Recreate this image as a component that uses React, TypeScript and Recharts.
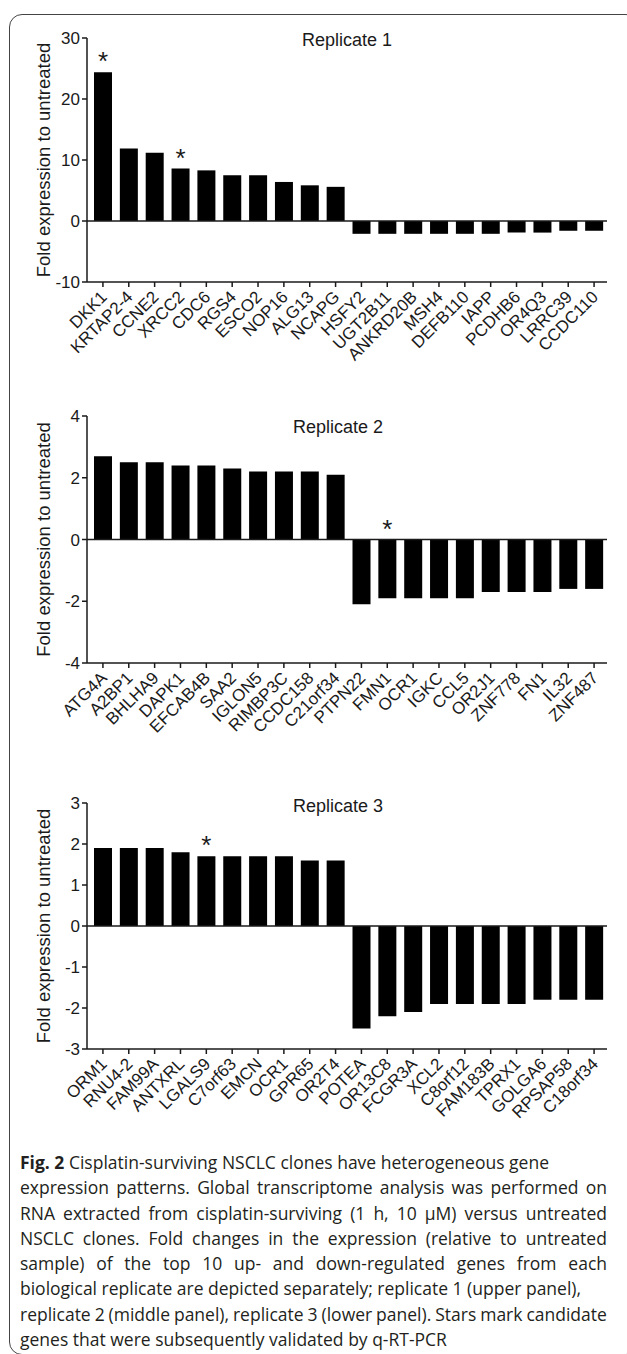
import React from 'react';
import { BarChart, Bar, XAxis, YAxis, ReferenceLine, LabelList } from 'recharts';

const genes1 = ["DKK1","KRTAP2-4","CCNE2","XRCC2","CDC6","RGS4","ESCO2","NOP16","ALG13","NCAPG","HSFY2","UGT2B11","ANKRD20B","MSH4","DEFB110","IAPP","PCDHB6","OR4Q3","LRRC39","CCDC110"];
const fold1 = [24.4, 11.9, 11.2, 8.6, 8.3, 7.5, 7.5, 6.4, 5.85, 5.6, -2.1, -2.1, -2.1, -2.1, -2.1, -2.1, -1.9, -1.9, -1.6, -1.6];
const starred1 = ["DKK1", "XRCC2"];
const ticks1 = [-10, 0, 10, 20, 30];

const genes2 = ["ATG4A","A2BP1","BHLHA9","DAPK1","EFCAB4B","SAA2","IGLON5","RIMBP3C","CCDC158","C21orf34","PTPN22","FMN1","OCR1","IGKC","CCL5","OR2J1","ZNF778","FN1","IL32","ZNF487"];
const fold2 = [2.7, 2.5, 2.5, 2.4, 2.4, 2.3, 2.2, 2.2, 2.2, 2.1, -2.1, -1.9, -1.9, -1.9, -1.9, -1.7, -1.7, -1.7, -1.6, -1.6];
const starred2 = ["FMN1"];
const ticks2 = [-4, -2, 0, 2, 4];

const genes3 = ["ORM1","RNU4-2","FAM99A","ANTXRL","LGALS9","C7orf63","EMCN","OCR1","GPR65","OR2T4","POTEA","OR13C8","FCGR3A","XCL2","C8orf12","FAM183B","TPRX1","GOLGA6","RPSAP58","C18orf34"];
const fold3 = [1.9, 1.9, 1.9, 1.8, 1.7, 1.7, 1.7, 1.7, 1.6, 1.6, -2.5, -2.2, -2.1, -1.9, -1.9, -1.9, -1.9, -1.8, -1.8, -1.8];
const starred3 = ["LGALS9"];
const ticks3 = [-3, -2, -1, 0, 1, 2, 3];

const titles = ["Replicate 1", "Replicate 2", "Replicate 3"];
const yLabel = "Fold expression to untreated";

const captionLines = [
  "Cisplatin-surviving NSCLC clones have heterogeneous gene",
  "expression patterns. Global transcriptome analysis was performed on",
  "RNA extracted from cisplatin-surviving (1 h, 10 μM) versus untreated",
  "NSCLC clones. Fold changes in the expression (relative to untreated",
  "sample) of the top 10 up- and down-regulated genes from each",
  "biological replicate are depicted separately; replicate 1 (upper panel),",
  "replicate 2 (middle panel), replicate 3 (lower panel). Stars mark candidate",
  "genes that were subsequently validated by q-RT-PCR",
];
const justified = [false, true, true, true, true, false, true, false];

const FONT = '"Liberation Sans", Arial, Helvetica, sans-serif';
const INK = '#1a1a1a';

const GeneTick = (props: any) => {
  const { x, y, payload } = props;
  return (
    <g transform={`translate(${x + 5},${y + 9}) rotate(-45)`}>
      <text x={0} y={0} textAnchor="end" fontSize={17} fill={INK} fontFamily={FONT}>
        {payload.value}
      </text>
    </g>
  );
};

const StarLabel = (props: any) => {
  const { x, y, width, height, value } = props;
  if (!value) return null;
  const top = Math.min(Number(y), Number(y) + Number(height));
  return (
    <text x={Number(x) + Number(width) / 2} y={top - 2} textAnchor="middle" fontSize={26} fill={INK} fontFamily={FONT}>
      {value}
    </text>
  );
};

const YLab = (props: any) => {
  const vb = props.viewBox || {};
  const cx = vb.x + 16;
  const cy = vb.y + vb.height / 2;
  return (
    <text x={cx} y={cy} transform={`rotate(-90, ${cx}, ${cy})`} textAnchor="middle" dominantBaseline="central" fontSize={18.5} fill={INK} fontFamily={FONT}>
      {yLabel}
    </text>
  );
};

type PanelProps = {
  genes: string[];
  folds: number[];
  starred: string[];
  ticks: number[];
  top: number;
  marginTop: number;
  marginBottom: number;
  title: string;
  titleX: number;
  titleY: number;
};

const CH = 380;

const Panel = ({ genes, folds, starred, ticks, top, marginTop, marginBottom, title, titleX, titleY }: PanelProps) => {
  const data = genes.map((g, i) => ({ gene: g, fold: folds[i], star: starred.includes(g) ? '*' : '' }));
  const lo = ticks[0];
  const hi = ticks[ticks.length - 1];
  return (
    <div style={{ position: 'absolute', left: 0, top, width: 627, height: CH }}>
      <BarChart width={627} height={CH} data={data} margin={{ top: marginTop, right: 20, bottom: marginBottom, left: 27 }} barSize={18}>
        <XAxis
          dataKey="gene"
          interval={0}
          tick={<GeneTick />}
          tickSize={5}
          height={100}
          padding={{ left: 3, right: 0 }}
          axisLine={{ stroke: INK, strokeWidth: 1.5 }}
          tickLine={{ stroke: INK, strokeWidth: 1.5 }}
        />
        <YAxis
          type="number"
          domain={[lo, hi]}
          ticks={ticks}
          interval={0}
          width={60}
          tickSize={5}
          tickMargin={2}
          allowDataOverflow
          axisLine={{ stroke: INK, strokeWidth: 1.5 }}
          tickLine={{ stroke: INK, strokeWidth: 1.5 }}
          tick={{ fontSize: 17, fill: INK, fontFamily: FONT }}
          label={<YLab />}
        />
        <ReferenceLine y={0} stroke={INK} strokeWidth={1.5} />
        <Bar dataKey="fold" fill="#000" isAnimationActive={false}>
          <LabelList dataKey="star" content={<StarLabel />} />
        </Bar>
      </BarChart>
      <div style={{ position: 'absolute', left: titleX, top: titleY, transform: 'translate(-50%, -50%)', fontFamily: FONT, fontSize: 18, color: INK, whiteSpace: 'nowrap' }}>
        {title}
      </div>
    </div>
  );
};

export default function App() {
  return (
    <div style={{ position: 'absolute', left: 0, top: 0, width: 627, height: 1354, overflow: 'hidden', background: '#fff' }}>
      <div style={{ position: 'absolute', left: 9, top: 14, width: 630, height: 1341, border: '1.5px solid #444', borderRadius: 13, boxSizing: 'border-box' }} />
      <Panel genes={genes1} folds={fold1} starred={starred1} ticks={ticks1} top={20} marginTop={18} marginBottom={18} title={titles[0]} titleX={347} titleY={20} />
      <Panel genes={genes2} folds={fold2} starred={starred2} ticks={ticks2} top={400} marginTop={16} marginBottom={17} title={titles[1]} titleX={338} titleY={27} />
      <Panel genes={genes3} folds={fold3} starred={starred3} ticks={ticks3} top={785} marginTop={18} marginBottom={16} title={titles[2]} titleX={338} titleY={21} />
      <div style={{ position: 'absolute', left: 20, top: 1150, width: 587, fontFamily: '"Open Sans", "Noto Sans", sans-serif', fontSize: 17.5, lineHeight: '25.3px', color: '#231f20' }}>
        {captionLines.map((line, i) => {
          const content = i === 0 ? (<><b>Fig. 2</b> {line}</>) : line;
          if (justified[i]) {
            const words = line.split(' ');
            return (
              <div key={i} style={{ display: 'flex', justifyContent: 'space-between', whiteSpace: 'nowrap' }}>
                {words.map((w, j) => <span key={j}>{w}</span>)}
              </div>
            );
          }
          return <div key={i} style={{ whiteSpace: 'nowrap' }}>{content}</div>;
        })}
      </div>
    </div>
  );
}
